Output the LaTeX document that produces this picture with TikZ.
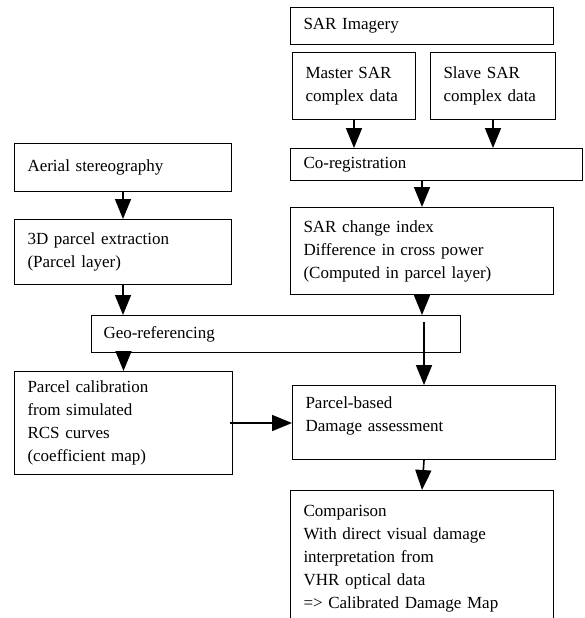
\documentclass[tikz,border=0pt]{standalone}
\usepackage{fontspec}
\setmainfont{Liberation Serif}
\usepackage{xcolor}
\usetikzlibrary{arrows.meta}

\tikzset{blk/.style={draw, line width=1pt, align=left, anchor=north west,
    inner xsep=13pt, inner ysep=0pt}}

\begin{document}
\begin{tikzpicture}[x=1pt,y=-1pt,
    font=\fontsize{17}{23}\selectfont,
    >={Triangle[width=16pt,length=20pt]},
    flow/.style={->, line width=1.6pt}]
\clip (0,0) rectangle (584,618);
% SAR branch
\node[blk, text width=237pt, minimum height=37pt] (sar) at (290,7) {SAR Imagery};
\node[blk, text width=97pt, minimum height=67pt] (master) at (292,52) {Master SAR\\complex data};
\node[blk, text width=99pt, minimum height=67pt] (slave) at (430,52) {Slave SAR\\complex data};
\node[blk, text width=266pt, minimum height=32pt] (coreg) at (290,148) {Co-registration};
\node[blk, text width=237pt, minimum height=87pt] (change) at (290,207) {SAR change index\\Difference in cross power\\(Computed in parcel layer)};
% aerial branch
\node[blk, text width=191pt, minimum height=48pt] (aerial) at (14,143) {Aerial stereography};
\node[blk, text width=191pt, minimum height=65pt] (extract) at (14,219) {3D parcel extraction\\(Parcel layer)};
\node[blk, text width=345pt, minimum height=37pt, inner xsep=12pt] (geo) at (91,315) {Geo-referencing};
\node[blk, text width=192pt, minimum height=103pt] (calib) at (14,371) {Parcel calibration\\from simulated\\RCS curves\\(coefficient map)};
% results
\node[blk, text width=237pt, minimum height=74pt, text depth=40pt] (assess) at (292,385) {Parcel-based\\Damage assessment};
\node[blk, text width=237pt, minimum height=136pt] (compare) at (290,490) {Comparison\\With direct visual damage\\interpretation from\\VHR optical data\\=> Calibrated Damage Map};

\draw[flow] (master.south) -- (master.south |- coreg.north);
\draw[flow] (slave.south) -- (slave.south |- coreg.north);
\draw[flow] (change.north |- coreg.south) -- (change.north);
\draw[flow] (change.south) -- (change.south |- geo.north);
\draw[flow] (aerial.south) -- (extract.north);
\draw[flow] (extract.south) -- (extract.south |- geo.north);
\draw[flow] (calib.north |- geo.south) -- (calib.north);
\draw[flow] ([yshift=-7pt]geo.north -| assess.north) -- (assess.north);
\draw[flow] ([xshift=-3pt]calib.east) -- (assess.west |- calib.east);
\draw[flow] (assess.south) -- (compare.north);
\end{tikzpicture}
\end{document}
